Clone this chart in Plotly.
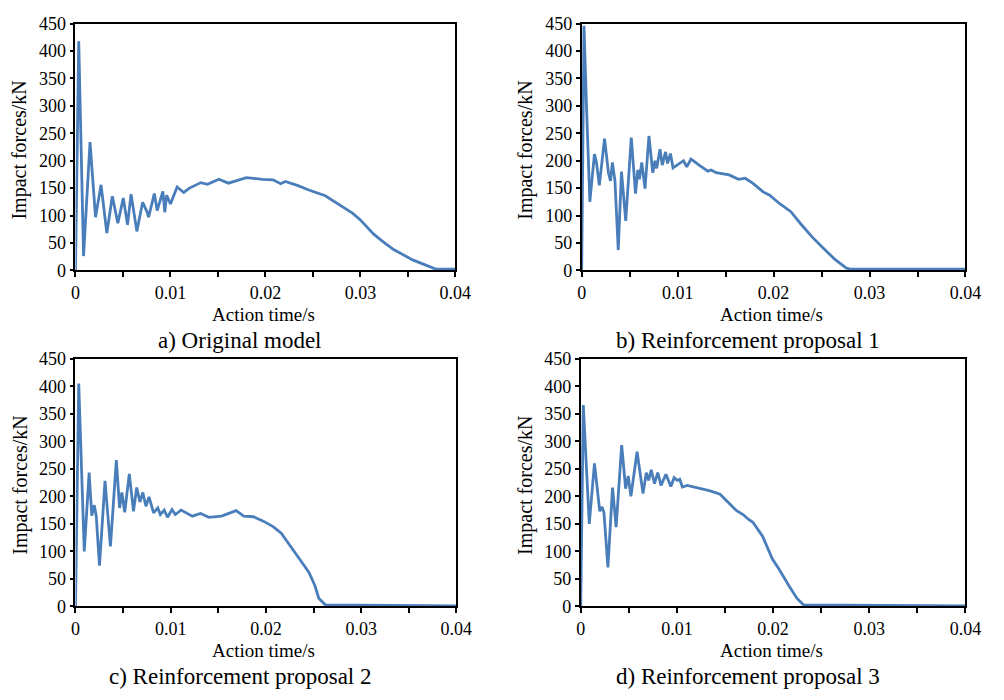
import plotly.graph_objects as go

# ---- data (time in s, force in kN) ----
t_a = [0, 0.00034, 0.00085, 0.00153, 0.00211, 0.00269, 0.0033, 0.00388, 0.00446, 0.00503,
       0.00548, 0.00585, 0.00646, 0.00707, 0.0075, 0.0077, 0.0083, 0.0086, 0.0092, 0.0094,
       0.0096, 0.0100, 0.0107, 0.0114, 0.0120, 0.0132, 0.0139, 0.0151, 0.0161, 0.0180,
       0.0197, 0.0208, 0.0216, 0.0221, 0.0235, 0.0245, 0.0263, 0.0280, 0.0292, 0.0300,
       0.0314, 0.0324, 0.0335, 0.0355, 0.0369, 0.0380, 0.0400]
f_a = [0, 418, 26, 234, 97, 156, 68, 135, 86, 132,
       83, 139, 71, 124, 108, 97, 140, 109, 144, 106,
       137, 121, 152, 142, 150, 160, 157, 166, 159, 169,
       166, 165, 158, 162, 154, 147, 136, 118, 104, 92,
       66, 52, 38, 19, 9, 2, 2]

t_b = [0, 0.00024, 0.0005, 0.00085, 0.00133, 0.00153, 0.00184, 0.00238, 0.00279, 0.003,
       0.0032, 0.00347, 0.00381, 0.00415, 0.00459, 0.00517, 0.00561, 0.00585, 0.00602, 0.00626,
       0.0066, 0.00701, 0.00741, 0.00765, 0.00782, 0.00816, 0.0084, 0.00874, 0.00895, 0.00925,
       0.00952, 0.00993, 0.01061, 0.01095, 0.0114, 0.01231, 0.01316, 0.0135, 0.01401, 0.01537,
       0.01635, 0.01704, 0.01789, 0.01891, 0.01959, 0.02061, 0.0218, 0.02282, 0.02401, 0.02503,
       0.02639, 0.02759, 0.0281, 0.04]
f_b = [0, 446, 300, 125, 212, 198, 155, 240, 178, 163,
       197, 163, 37, 180, 90, 242, 140, 183, 166, 197,
       149, 245, 178, 200, 186, 221, 192, 216, 195, 213,
       187, 192, 200, 189, 203, 191, 181, 183, 178, 174,
       166, 168, 158, 143, 137, 122, 107, 85, 61, 43,
       20, 4, 2, 2]

t_c = [0, 0.00034, 0.00092, 0.00143, 0.00171, 0.00197, 0.00218, 0.00252, 0.0031, 0.00367,
       0.00429, 0.00463, 0.00487, 0.00517, 0.00565, 0.00609, 0.00643, 0.00677, 0.00707, 0.0074,
       0.00772, 0.0082, 0.00864, 0.00891, 0.00932, 0.00966, 0.01014, 0.01048, 0.01109, 0.01228,
       0.01313, 0.01401, 0.01534, 0.01687, 0.01767, 0.0187, 0.01973, 0.02075, 0.02161, 0.02212,
       0.02281, 0.02366, 0.02452, 0.02514, 0.02555, 0.02623, 0.04]
f_c = [0, 405, 100, 243, 165, 184, 164, 74, 228, 109,
       266, 179, 207, 171, 241, 173, 216, 190, 207, 182,
       199, 170, 179, 167, 175, 162, 176, 167, 175, 164,
       169, 162, 164, 174, 164, 163, 155, 145, 133, 121,
       104, 83, 62, 38, 15, 3, 1]

t_d = [0, 0.00027, 0.00089, 0.00143, 0.00198, 0.00222, 0.00242, 0.00283, 0.00331, 0.00368,
       0.00426, 0.00467, 0.00494, 0.00522, 0.00586, 0.00648, 0.00682, 0.00706, 0.00733, 0.00767,
       0.00801, 0.00835, 0.00886, 0.00937, 0.00971, 0.01005, 0.01029, 0.01057, 0.01108, 0.0121,
       0.01346, 0.01449, 0.01534, 0.0162, 0.01688, 0.01739, 0.0179, 0.01892, 0.01993, 0.02061,
       0.02163, 0.02247, 0.02315, 0.04]
f_d = [0, 366, 150, 260, 173, 181, 170, 71, 216, 144,
       293, 214, 237, 200, 281, 205, 243, 229, 248, 223,
       243, 220, 240, 218, 234, 229, 231, 217, 220, 216,
       210, 204, 190, 174, 167, 159, 153, 127, 86, 68,
       38, 15, 3, 1]

x_tickvals = [0, 0.005, 0.01, 0.015, 0.02, 0.025, 0.03, 0.035, 0.04]
x_ticktext = ["0", "", "0.01", "", "0.02", "", "0.03", "", "0.04"]

captions = ["a) Original model", "b) Reinforcement proposal 1",
            "c) Reinforcement proposal 2", "d) Reinforcement proposal 3"]
x_title = "Action time/s"
y_title = "Impact forces/kN"

W, H = 1004, 700
FONT = "Liberation Serif"
LINE_COLOR = "#4a7ebb"

# pixel boxes of each plot area: (left, right, top, bottom)
boxes = [(72, 460, 14, 268), (589, 981, 14, 268), (72, 461, 359, 614), (588, 981, 359, 614)]
series = [(t_a, f_a), (t_b, f_b), (t_c, f_c), (t_d, f_d)]

fig = go.Figure()
for i, (tx, fy) in enumerate(series):
    n = "" if i == 0 else str(i + 1)
    fig.add_trace(go.Scatter(x=tx, y=fy, mode="lines", xaxis="x" + n, yaxis="y" + n,
                             line=dict(color=LINE_COLOR, width=2.8)))

fig.update_layout(width=W, height=H, margin=dict(l=0, r=0, t=0, b=0),
                  paper_bgcolor="white", plot_bgcolor="white", showlegend=False,
                  font=dict(family=FONT, color="black"))

annotations = []
for i, (l, r, tp, bt) in enumerate(boxes):
    n = "" if i == 0 else str(i + 1)
    fig.update_layout(**{
        "xaxis" + n: dict(domain=[l / W, r / W], anchor="y" + n, range=[0, 0.04],
                          tickmode="array", tickvals=x_tickvals, ticktext=x_ticktext,
                          ticks="outside", ticklen=5, tickwidth=1.5,
                          tickcolor="black", showline=True, linecolor="black", linewidth=1.8,
                          mirror=True, showgrid=False, zeroline=False,
                          tickfont=dict(family=FONT, size=18, color="black")),
        "yaxis" + n: dict(domain=[1 - bt / H, 1 - tp / H], anchor="x" + n, range=[0, 450],
                          dtick=50, ticks="outside", ticklen=4, tickwidth=1.5, tickcolor="black",
                          showline=True, linecolor="black", linewidth=1.8, mirror=True,
                          showgrid=False, zeroline=False,
                          tickfont=dict(family=FONT, size=18, color="black")),
    })
    cx = (l + r) / 2
    annotations.append(dict(text=x_title, x=(cx - 2) / W, y=1 - (bt + 45) / H, xref="paper", yref="paper",
                            showarrow=False, xanchor="center", yanchor="middle",
                            font=dict(family=FONT, size=19, color="black")))
    annotations.append(dict(text=captions[i], x=(cx - 26) / W, y=1 - (bt + 72) / H, xref="paper",
                            yref="paper", showarrow=False, xanchor="center", yanchor="middle",
                            font=dict(family=FONT, size=23, color="black")))
    annotations.append(dict(text=y_title, x=(l - 57) / W, y=1 - (tp + 130) / H, xref="paper",
                            yref="paper", showarrow=False, textangle=-90, xanchor="center",
                            yanchor="middle", font=dict(family=FONT, size=20, color="black")))
fig.update_layout(annotations=annotations)
fig.write_html("out.html")
